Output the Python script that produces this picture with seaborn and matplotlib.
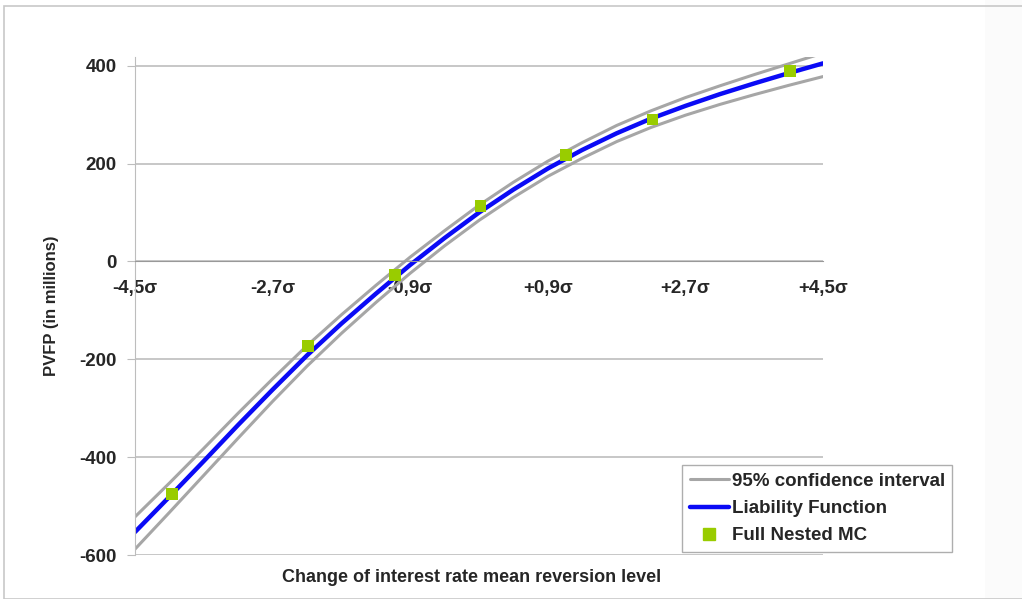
import matplotlib
matplotlib.use("Agg")
import matplotlib.pyplot as plt
import seaborn as sns
import numpy as np
import pandas as pd
from matplotlib.lines import Line2D
from matplotlib.patches import Rectangle

# data
sigma = [-4.5, -4.05, -3.6, -3.15, -2.7, -2.25, -1.8, -1.35, -0.9, -0.45, 0.0,
         0.45, 0.9, 1.35, 1.8, 2.25, 2.7, 3.15, 3.6, 4.05, 4.5]
liability = [-553, -481, -408, -334, -262, -192, -127, -66, -7, 48, 100,
             147, 190, 228, 262, 292, 318, 342, 364, 385, 405]
ci_upper = [-522, -453, -382, -310, -240, -172, -109, -49, 9, 63, 115,
            162, 205, 243, 278, 308, 335, 359, 382, 404, 426]
ci_lower = [-588, -513, -437, -361, -286, -214, -147, -84, -24, 32, 84,
            131, 174, 211, 245, 274, 299, 321, 341, 360, 378]

mc_sigma = [-4.02, -2.24, -1.1, 0.02, 1.14, 2.27, 4.07]
mc_pvfp = [-475, -173, -28, 114, 218, 290, 390]

tick_pos = [-4.5, -3.6, -2.7, -1.8, -0.9, 0.0, 0.9, 1.8, 2.7, 3.6, 4.5]
tick_txt = ["-4,5σ", "", "-2,7σ", "", "-0,9σ", "", "+0,9σ", "", "+2,7σ", "", "+4,5σ"]
ytick_pos = [-600, -400, -200, 0, 200, 400]

df = pd.DataFrame({"sigma": sigma, "liab": liability, "up": ci_upper, "lo": ci_lower})
mc = pd.DataFrame({"sigma": mc_sigma, "pvfp": mc_pvfp})

sns.set_style("white")
plt.rcParams["font.family"] = ["Liberation Sans", "DejaVu Sans"]
plt.rcParams["font.weight"] = "bold"

grey = "#a6a6a6"
blue = "#0a0af5"
green = "#99cc00"

fig = plt.figure(figsize=(10.22, 5.99), dpi=100)
# faint shaded strip at the right edge of the slide
fig.patches.append(Rectangle((985 / 1022, 0), 37 / 1022, 1, transform=fig.transFigure,
                             facecolor="#fbfbfb", edgecolor="none", zorder=-1))
ax = fig.add_axes([135 / 1022, 1 - 555 / 599, 688 / 1022, 498 / 599])

sns.lineplot(data=df, x="sigma", y="up", color=grey, lw=2.2, ax=ax)
sns.lineplot(data=df, x="sigma", y="lo", color=grey, lw=2.2, ax=ax)
sns.lineplot(data=df, x="sigma", y="liab", color=blue, lw=3.2, ax=ax)
sns.scatterplot(data=mc, x="sigma", y="pvfp", color=green, marker="s", s=70,
                edgecolor="none", ax=ax, zorder=5)

ax.spines["bottom"].set_position(("data", 0))
ax.spines["bottom"].set_color("#999999")
ax.spines["left"].set_color("#bdbdbd")
ax.spines["top"].set_visible(False)
ax.spines["right"].set_visible(False)

ax.set_xlim(-4.5, 4.5)
ax.set_ylim(-600, 418)
ax.set_yticks(ytick_pos)
ax.set_yticklabels([str(v) for v in ytick_pos])
ax.set_xticks(tick_pos)
ax.set_xticklabels(tick_txt)
ax.yaxis.grid(True, color="#bdbdbd", lw=1.2)
ax.set_axisbelow(True)
ax.tick_params(axis="x", direction="out", length=5, color="#999999", pad=8, labelsize=13.5)
ax.tick_params(axis="y", direction="out", length=6, color="#bdbdbd", pad=7, left=True, labelsize=13.5)
for t in ax.get_xticklabels() + ax.get_yticklabels():
    t.set_fontweight("bold")

ax.set_xlabel("")
ax.set_ylabel("PVFP (in millions)", fontsize=12, fontweight="bold", labelpad=15)
fig.text(472 / 1022, 1 - 577 / 599, "Change of interest rate mean reversion level",
         ha="center", va="center", fontsize=13, fontweight="bold")

handles = [
    Line2D([], [], color=grey, lw=2.2),
    Line2D([], [], color=blue, lw=3.2),
    Line2D([], [], color=green, marker="s", ls="none", markersize=8),
]
labels = ["95% confidence interval", "Liability Function", "Full Nested MC"]
leg = fig.legend(handles, labels, loc="upper left", bbox_to_anchor=(682 / 1022, 1 - 465 / 599),
                 frameon=True, fancybox=False, fontsize=13.5, handlelength=2.1,
                 handletextpad=0.15, borderpad=0.4, labelspacing=0.55, borderaxespad=0)
leg.get_frame().set_edgecolor("#9a9a9a")
leg.get_frame().set_linewidth(1.0)
for t in leg.get_texts():
    t.set_fontweight("bold")

# outer frame of the slide
fig.patches.append(Rectangle((4 / 1022, 0), 1.2, 1 - 6 / 599, transform=fig.transFigure,
                             fill=False, edgecolor="#c8c8c8", lw=1.2))

fig.savefig("out.png", dpi=100)
